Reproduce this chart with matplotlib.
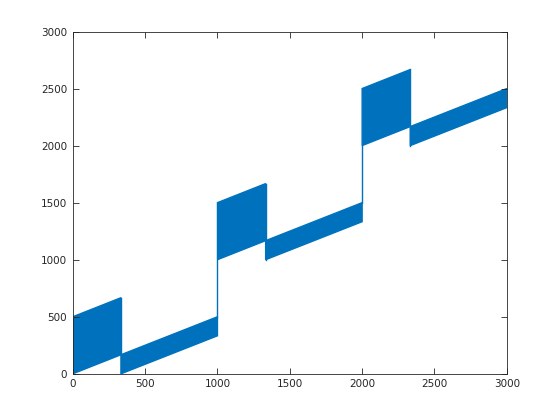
import matplotlib
matplotlib.use("Agg")
import matplotlib.pyplot as plt

# band extents (each band is a dense zigzag between two edges)
band_x0 = [0, 333, 1000, 1333, 2000, 2333]
band_x1 = [333, 1000, 1333, 2000, 2333, 3000]
low_start = [0, 0, 1000, 1000, 2000, 2000]
low_end = [167, 333, 1167, 1333, 2167, 2333]
up_start = [500, 167, 1500, 1167, 2500, 2167]
up_end = [667, 500, 1667, 1500, 2667, 2500]

ticks = [0, 500, 1000, 1500, 2000, 2500, 3000]
blue = '#0072BD'
dark = '#262626'

fig = plt.figure(figsize=(5.6, 4.2), dpi=100)
ax = fig.add_axes([0.13, 0.11, 0.775, 0.815])

for i in range(len(band_x0)):
    xs = [band_x0[i], band_x1[i], band_x1[i], band_x0[i]]
    ys = [low_start[i], low_end[i], up_end[i], up_start[i]]
    ax.fill(xs, ys, color=blue, lw=1.0, ec=blue, joinstyle='miter')

# connecting segments between consecutive bands
for i in range(len(band_x0) - 1):
    ax.plot([band_x1[i], band_x0[i + 1]], [up_end[i], low_start[i + 1]], color=blue, lw=1.0)

ax.set_xlim(0, 3000)
ax.set_ylim(0, 3000)
ax.set_xticks(ticks)
ax.set_yticks(ticks)
ax.tick_params(direction='in', length=4, width=0.6, colors=dark, labelsize=7.5,
               top=True, right=True, pad=4)
for s in ax.spines.values():
    s.set_color(dark)
    s.set_linewidth(0.6)

fig.savefig('out.png', dpi=100)
